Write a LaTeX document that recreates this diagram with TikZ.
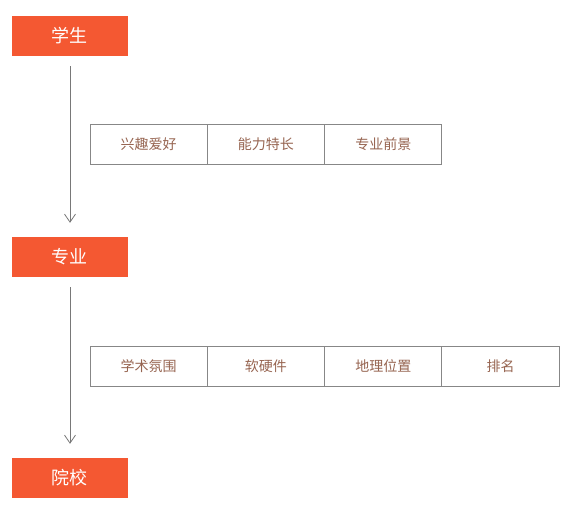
\documentclass[tikz,border=0pt]{standalone}
\usepackage{fontspec}
\setmainfont{Noto Sans CJK SC}
\usetikzlibrary{arrows.meta}
\definecolor{stageorange}{RGB}{244,88,50}
\definecolor{cellgray}{RGB}{135,135,135}
\definecolor{factorbrown}{RGB}{150,100,80}
\definecolor{linkgray}{RGB}{120,120,120}
\begin{document}
\begin{tikzpicture}[x=1pt,y=-1pt,
    stage/.style={fill=stageorange,text=white,minimum width=116pt,minimum height=40pt,
      inner sep=0pt,font=\fontsize{18}{18}\selectfont},
    factor/.style={draw=cellgray,line width=0.9pt,text=factorbrown,minimum width=117.3pt,
      minimum height=40.5pt,inner sep=0pt,font=\fontsize{14}{14}\selectfont}]
  \useasboundingbox (0,0) rectangle (571,520);
  \draw
    (70,36) node[stage] (student){学生}
    (70,257) node[stage] (major){专业}
    (70,478) node[stage] (school){院校};
  \draw
    (148.65,144.5) node[factor] (interest){兴趣爱好}
    (265.95,144.5) node[factor] (ability){能力特长}
    (383.25,144.5) node[factor] (prospect){专业前景}
    (148.65,366.5) node[factor] (academic){学术氛围}
    (265.95,366.5) node[factor] (facility){软硬件}
    (383.25,366.5) node[factor] (location){地理位置}
    (500.55,366.5) node[factor] (ranking){排名};
  \begin{scope}[draw=linkgray,line width=0.8pt,-{Straight Barb[length=8pt,width=11pt]}]
    \draw[shorten <=10pt,shorten >=14pt] (student) to (major);
    \draw[shorten <=10pt,shorten >=14pt] (major) to (school);
  \end{scope}
\end{tikzpicture}
\end{document}
